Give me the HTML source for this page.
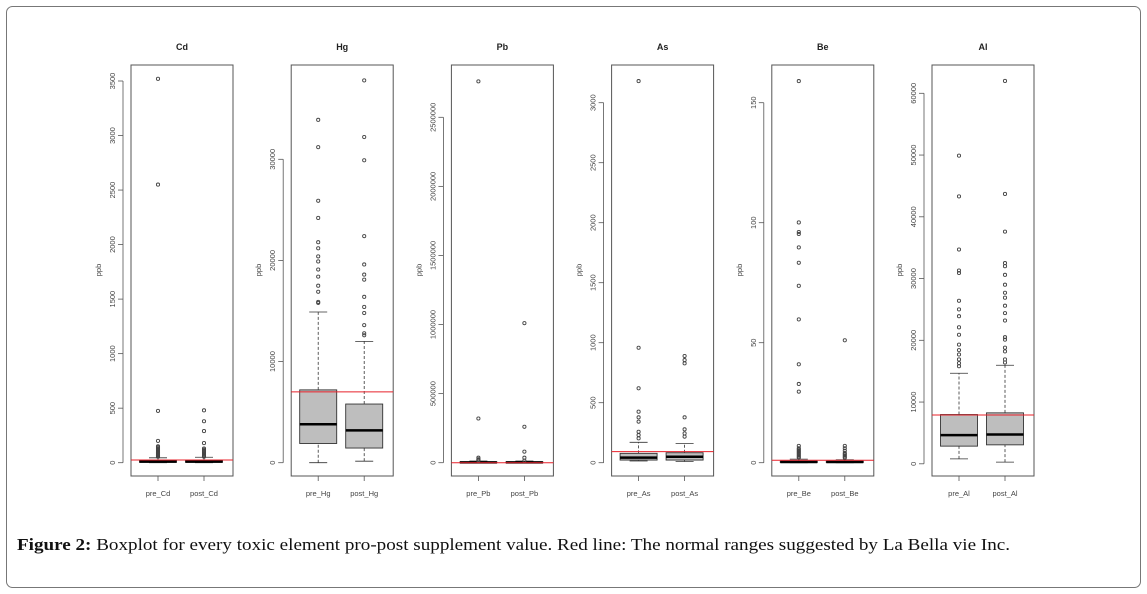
<!DOCTYPE html>
<html><head><meta charset="utf-8"><style>
html,body{margin:0;padding:0;background:#fff;}
svg{display:block;font-family:"Liberation Sans",Arial,sans-serif;}
</style></head><body>
<svg id="fig" width="1147" height="594" viewBox="0 0 1147 594" xmlns="http://www.w3.org/2000/svg">
<rect x="6.5" y="6.5" width="1134" height="581" rx="6" fill="#fff" stroke="#777" stroke-width="1"/>
<text x="17" y="550" font-family="Liberation Serif, serif" font-size="17" fill="#111" textLength="993" lengthAdjust="spacingAndGlyphs"><tspan font-weight="bold">Figure 2:</tspan> Boxplot for every toxic element pro-post supplement value. Red line: The normal ranges suggested by La Bella vie Inc.</text>
<g id="plots"></g>
</svg>
<script>
// ---- data ----
const elements = ["Cd","Hg","Pb","As","Be","Al"];
const tickValues = [
  [0,500,1000,1500,2000,2500,3000,3500],
  [0,10000,20000,30000],
  [0,500000,1000000,1500000,2000000,2500000],
  [0,500,1000,1500,2000,2500,3000],
  [0,50,100,150],
  [0,10000,20000,30000,40000,50000,60000]
];
const axisMax = [3500,30000,2500000,3000,150,60000];
const redLine = [25,7000,0,92,1,7900];
// box stats: [lowWhisker, q1, median, q3, highWhisker]
const preStats = [
  [0,4,10,20,45],
  [0,1900,3800,7200,14900],
  [0,0,2000,5000,12000],
  [14,22,42,78,170],
  [0,0.1,0.3,0.6,1.5],
  [800,2860,4640,7980,14660]
];
const postStats = [
  [0,4,10,22,50],
  [150,1450,3200,5800,12000],
  [0,0,2000,5000,12000],
  [10,22,50,83,161],
  [0,0.1,0.3,0.6,1.2],
  [270,3070,4740,8250,15960]
];
const preOutliers = [
  [55,60,65,70,75,80,85,90,95,100,110,120,130,140,150,200,475,2550,3520],
  [15800,15900,16900,17500,18400,19100,19900,20400,21200,21800,24200,25900,31200,33900],
  [15000,20000,25000,36000,320000,2760000],
  [203,230,258,342,378,425,620,958,3180],
  [2,2.5,3,3.5,4,4.5,5,5.5,6,7,29.6,32.8,41,59.7,73.7,83.3,89.7,95.3,96.1,100.1,159],
  [15800,16300,16900,17700,18400,19300,20900,22100,23900,25000,26400,30900,31300,34700,43300,49900]
];
const postOutliers = [
  [55,60,70,80,90,100,110,120,130,180,290,380,480],
  [12600,12800,13600,14800,15400,16400,18100,18600,19600,22400,29900,32200,37800],
  [15000,36000,80000,260000,1010000],
  [217,244,278,378,828,855,889],
  [2,2.5,3,3.5,4,5,6,7,51],
  [16400,16900,18200,18800,20100,20500,23200,24400,25600,26900,27700,29000,30600,32000,32500,37600,43700,62000]
];
// ---- layout ----
const NS = "http://www.w3.org/2000/svg";
const g = document.getElementById("plots");
const panelLeft0 = 131, panelStep = 160.2, panelW = 102;
const boxTop = 65, boxBottom = 476;
const zeroPx = [462.7,462.7,462.7,462.7,462.7,463.8];
const maxPx = [81,159.3,117.3,102.7,102.7,93.3];
function mk(tag, attrs, parent){
  const e = document.createElementNS(NS, tag);
  for (const k in attrs) e.setAttribute(k, attrs[k]);
  (parent||g).appendChild(e);
  return e;
}
elements.forEach((el, i) => {
  const L = panelLeft0 + i*panelStep;
  const yScale = v => zeroPx[i] - (v/axisMax[i])*(zeroPx[i] - maxPx[i]);
  const pg = mk("g", {});
  
  
  const t = mk("text", {x: L+panelW/2, y: 50, "text-anchor":"middle", "font-size":"9", "font-weight":"bold", fill:"#222"}, pg);
  t.textContent = el;
  
  
  const fr = mk("rect", {x: L, y: boxTop, width: panelW, height: boxBottom-boxTop, fill:"none", stroke:"#555", "stroke-width":"1"}, pg);
  
  
  const ticks = tickValues[i];
  const ax = mk("line", {x1: L-8, x2: L-8, y1: yScale(ticks[0]), y2: yScale(ticks[ticks.length-1]), stroke:"#555", "stroke-width":"0.8"}, pg);
  
  
  ticks.forEach(v => {
    const y = yScale(v);
    mk("line", {x1: L-13, x2: L-8, y1: y, y2: y, stroke:"#555", "stroke-width":"0.8"}, pg);
    const tl = mk("text", {x: 0, y: 0, "text-anchor":"middle", "font-size":"7.5", fill:"#444",
      transform: `translate(${L-16},${y}) rotate(-90)`}, pg);
    tl.textContent = String(v);
    
    
  });
  const yl = mk("text", {x:0, y:0, "text-anchor":"middle", "font-size":"7.5", fill:"#444",
    transform: `translate(${L-30},270) rotate(-90)`}, pg);
  yl.textContent = "ppb";
  
  
  [[preStats[i], preOutliers[i], "pre_"+el, 27],[postStats[i], postOutliers[i], "post_"+el, 73]].forEach(([s, outs, name, off]) => {
    const cx = L + off, hw = 18.5;
    const bg = mk("g", {}, pg);
    
    
    mk("line", {x1:cx, x2:cx, y1:yScale(s[0]), y2:yScale(s[1]), stroke:"#333", "stroke-dasharray":"3,2", "stroke-width":"0.8"}, bg);
    mk("line", {x1:cx, x2:cx, y1:yScale(s[3]), y2:yScale(s[4]), stroke:"#333", "stroke-dasharray":"3,2", "stroke-width":"0.8"}, bg);
    mk("line", {x1:cx-9, x2:cx+9, y1:yScale(s[0]), y2:yScale(s[0]), stroke:"#333", "stroke-width":"0.8"}, bg);
    mk("line", {x1:cx-9, x2:cx+9, y1:yScale(s[4]), y2:yScale(s[4]), stroke:"#333", "stroke-width":"0.8"}, bg);
    const h = Math.max(yScale(s[1]) - yScale(s[3]), 0.8);
    mk("rect", {x:cx-hw, y:yScale(s[3]), width:hw*2, height:h, fill:"#bebebe", stroke:"#333", "stroke-width":"0.9"}, bg);
    mk("line", {x1:cx-hw, x2:cx+hw, y1:yScale(s[2]), y2:yScale(s[2]), stroke:"#000", "stroke-width":"2.5"}, bg);
    outs.forEach(v => {
      const c = mk("circle", {cx:cx, cy:yScale(v), r:1.6, fill:"none", stroke:"#444", "stroke-width":"0.9"}, bg);
      
      
    });
    mk("line", {x1:cx, x2:cx, y1:boxBottom, y2:boxBottom+5, stroke:"#555", "stroke-width":"0.8"}, pg);
    const xl = mk("text", {x:cx, y:496, "text-anchor":"middle", "font-size":"7.5", fill:"#444"}, pg);
    xl.textContent = name;
    
    
  });
  const rl = mk("line", {x1:L, x2:L+panelW, y1:yScale(redLine[i]), y2:yScale(redLine[i]), stroke:"#e8202a", "stroke-width":"1"}, pg);
  
  
});
</script>
</body></html>
